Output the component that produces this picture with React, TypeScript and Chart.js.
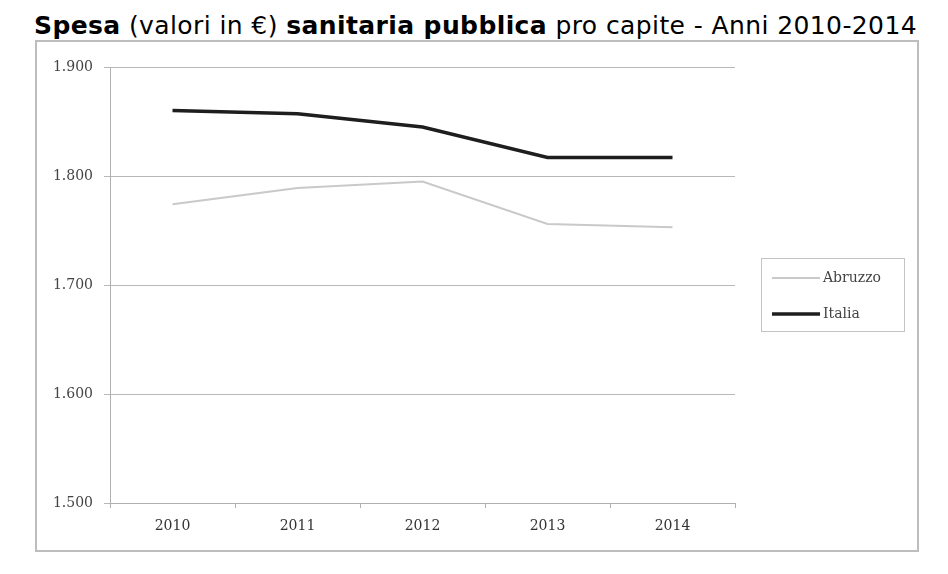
import React, { useEffect, useRef } from "react";
import { Chart, registerables } from "chart.js";

Chart.register(...registerables);

const categories = ["2010", "2011", "2012", "2013", "2014"];
const abruzzo = [1774, 1789, 1795, 1756, 1753];
const italia = [1860, 1857, 1845, 1817, 1817];
const yTicks = [1500, 1600, 1700, 1800, 1900];

const SERIF = "'DejaVu Serif', 'Liberation Serif', serif";

const boxLegend = {
  id: "boxLegend",
  afterDraw(chart: any) {
    const ctx = chart.ctx;
    const a = chart.chartArea;
    const x0 = a.right + 26;
    const y0 = a.top + 191;
    const w = 143;
    const h = 73;
    ctx.save();
    ctx.strokeStyle = "#c4c4c4";
    ctx.lineWidth = 1;
    ctx.strokeRect(x0 + 0.5, y0 + 0.5, w, h);
    ctx.font = "14px " + SERIF;
    ctx.textBaseline = "middle";
    chart.data.datasets.forEach((ds: any, i: number) => {
      const y = y0 + 20 + i * 36;
      ctx.beginPath();
      ctx.strokeStyle = ds.borderColor;
      ctx.lineWidth = ds.borderWidth;
      ctx.moveTo(x0 + 11, y);
      ctx.lineTo(x0 + 59, y);
      ctx.stroke();
      ctx.fillStyle = "#444";
      ctx.fillText(ds.label, x0 + 62, y);
    });
    ctx.restore();
  },
};

export default function App() {
  const ref = useRef<HTMLCanvasElement>(null);
  useEffect(() => {
    if (!ref.current) return;
    const chart = new Chart(ref.current, {
      type: "line",
      data: {
        labels: categories,
        datasets: [
          {
            label: "Abruzzo",
            data: abruzzo,
            borderColor: "#c9c9c9",
            borderWidth: 2,
            pointRadius: 0,
            tension: 0,
          },
          {
            label: "Italia",
            data: italia,
            borderColor: "#1e1e1e",
            borderWidth: 3.5,
            pointRadius: 0,
            tension: 0,
          },
        ],
      },
      options: {
        responsive: false,
        animation: false,
        layout: { padding: { left: 0, top: 25, right: 182, bottom: 0 } },
        plugins: {
          legend: { display: false },
          tooltip: { enabled: false },
        },
        scales: {
          x: {
            offset: true,
            grid: {
              display: true,
              offset: true,
              drawOnChartArea: false,
              drawTicks: true,
              tickLength: 5,
              color: "#b0b0b0",
            },
            border: { display: true, color: "#b0b0b0", width: 1 },
            ticks: {
              color: "#333",
              font: { family: SERIF, size: 14 },
              padding: 10,
            },
            afterFit(scale: any) {
              scale.height = 47;
            },
          },
          y: {
            min: 1500,
            max: 1900,
            afterBuildTicks(scale: any) {
              scale.ticks = yTicks.map((v) => ({ value: v }));
            },
            grid: {
              color: "#b8b8b8",
              tickLength: 6,
              drawTicks: true,
            },
            border: { display: true, color: "#b0b0b0", width: 1 },
            ticks: {
              color: "#444",
              font: { family: SERIF, size: 14 },
              padding: 11,
              callback: (v: any) => (Number(v) / 1000).toFixed(3),
            },
            afterFit(scale: any) {
              scale.width = 73;
            },
          },
        },
      },
      plugins: [boxLegend],
    });
    return () => chart.destroy();
  }, []);

  return (
    <div style={{ position: "relative", width: 932, height: 558 }}>
      <div
        style={{
          position: "absolute",
          left: 26,
          top: 3,
          whiteSpace: "nowrap",
          fontFamily: "'DejaVu Sans', Verdana, sans-serif",
          fontSize: 25,
          letterSpacing: "0.4px",
          lineHeight: "30px",
          color: "#000",
        }}
      >
        <b>Spesa</b> (valori in €) <b>sanitaria pubblica</b> pro capite - Anni 2010-2014
      </div>
      <div
        style={{
          position: "absolute",
          left: 27,
          top: 32,
          width: 880,
          height: 508,
          border: "2px solid #bdbdbd",
        }}
      >
        <canvas ref={ref} width={880} height={508} style={{ display: "block" }} />
      </div>
    </div>
  );
}
